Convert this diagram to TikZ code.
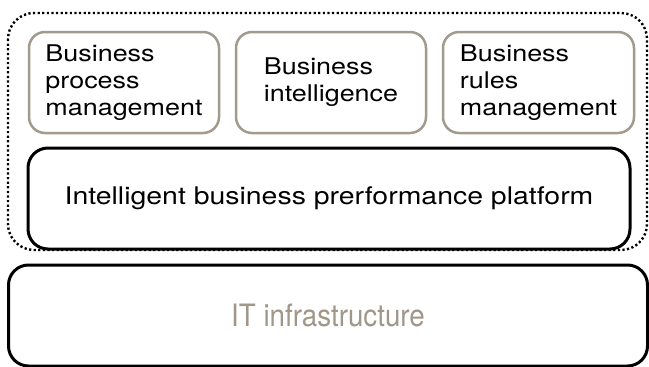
\documentclass[tikz,border=0pt]{standalone}
\usepackage{fontspec}
\newfontfamily\boxfont{TeX Gyre Heros}[FakeStretch=1.17]
\newfontfamily\infrafont{TeX Gyre Heros}[FakeStretch=0.9]
\definecolor{boxgray}{HTML}{A39A8E}
\definecolor{textgray}{HTML}{A0968A}
\begin{document}
\begin{tikzpicture}[x=1pt,y=-1pt,
  topbox/.style={draw=boxgray, line width=2.5pt, rounded corners=16pt,
    minimum width=190pt, minimum height=101pt, inner sep=0pt, outer sep=0pt,
    align=left, font=\boxfont\fontsize{23}{27}\selectfont},
  bigbox/.style={draw=black, line width=3pt, rounded corners=20pt,
    minimum height=101pt, inner sep=0pt, outer sep=0pt},
  dotbox/.style={draw=black, line width=2.4pt, dash pattern=on 2.2pt off 2.4pt,
    rounded corners=26pt}]
\useasboundingbox (0,0) rectangle (649,367);
\fill[white] (0,0) rectangle (649,367);
\draw[dotbox] (8,13) rectangle (647,250);
\node[topbox] (bpm) at (124,82.5) {Business\\process\\management};
\node[topbox] (bi) at (331,82.5) {Business\\intelligence};
\node[topbox, minimum width=191pt] (brm) at (538.5,82.5) {Business\\rules\\management};
\node[bigbox, minimum width=602pt, font=\boxfont\fontsize{24.3}{30}\selectfont] (ibpp) at (329,198.5) {Intelligent business prerformance platform};
\node[bigbox, minimum width=639pt, text=textgray, font=\infrafont\fontsize{30.8}{36}\selectfont] (it) at (328,315.5) {IT infrastructure};
\end{tikzpicture}
\end{document}
